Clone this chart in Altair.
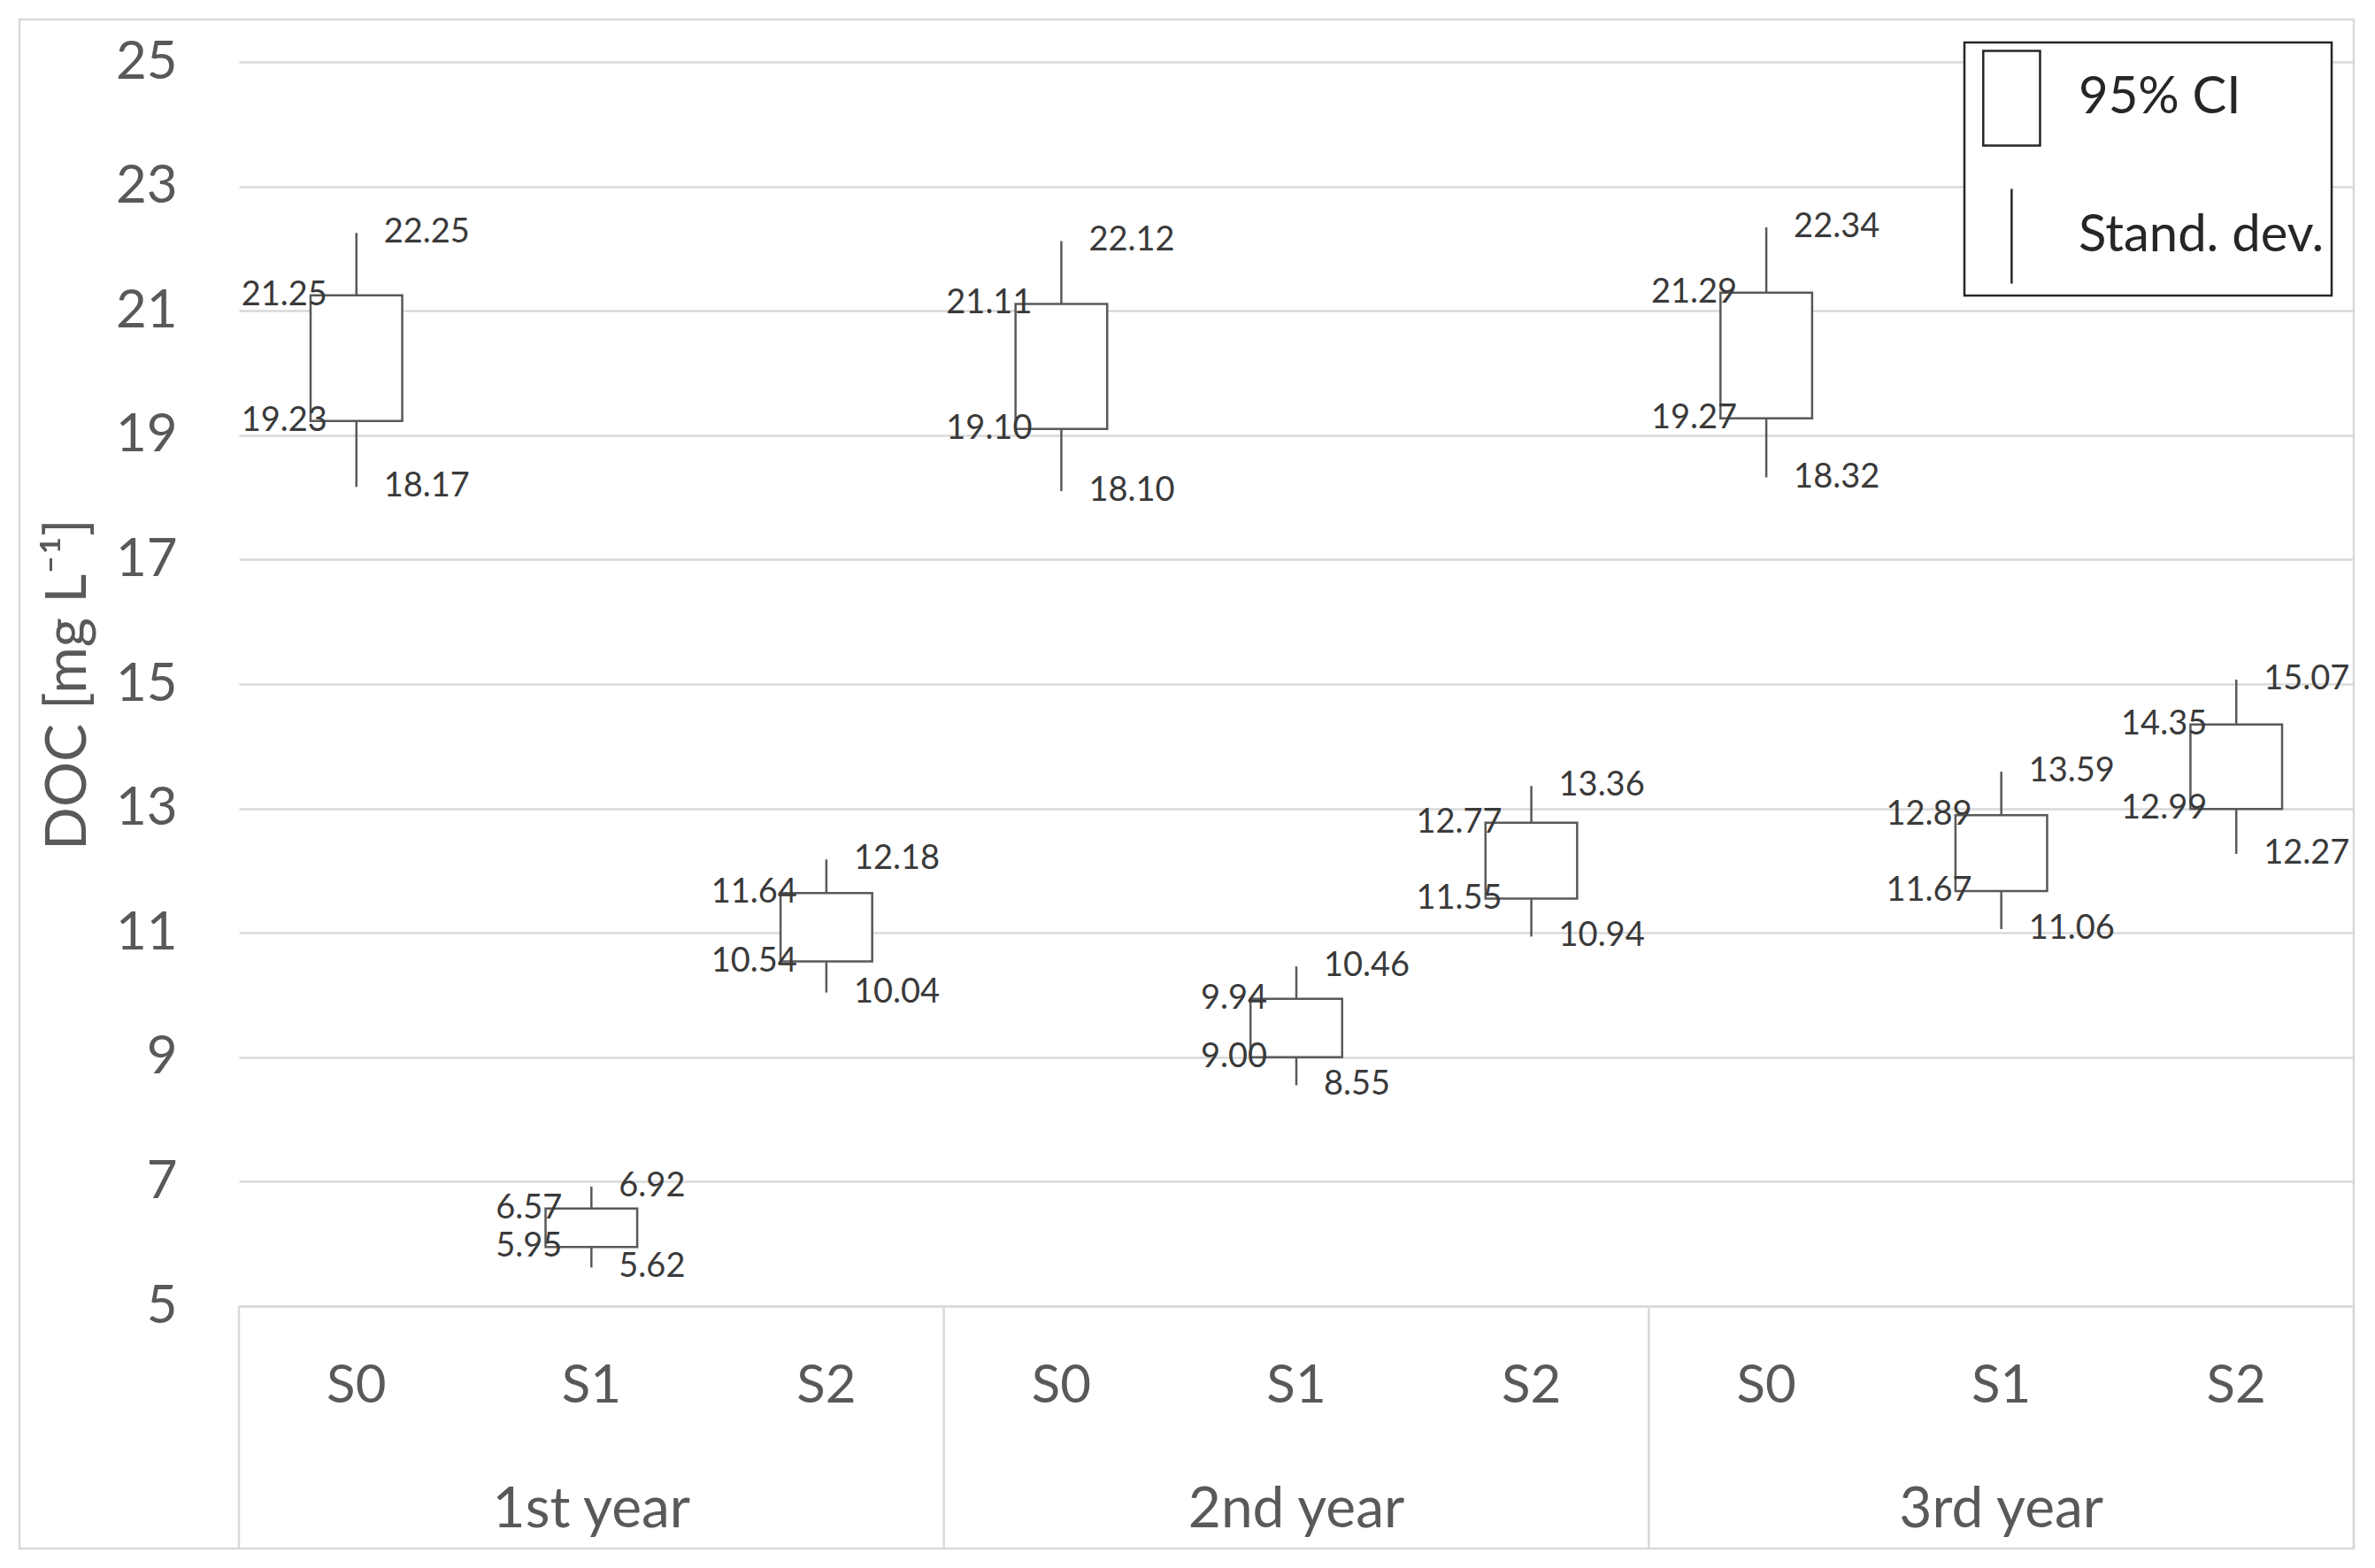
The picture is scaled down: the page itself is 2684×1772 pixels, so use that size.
import altair as alt
import pandas as pd

# ---- data ----
years = ["1st year", "2nd year", "3rd year"]
sites = ["S0", "S1", "S2"]
sd_high = [22.25, 6.92, 12.18, 22.12, 10.46, 13.36, 22.34, 13.59, 15.07]
ci_high = [21.25, 6.57, 11.64, 21.11, 9.94, 12.77, 21.29, 12.89, 14.35]
ci_low = [19.23, 5.95, 10.54, 19.10, 9.00, 11.55, 19.27, 11.67, 12.99]
sd_low = [18.17, 5.62, 10.04, 18.10, 8.55, 10.94, 18.32, 11.06, 12.27]
y_ticks = [5, 7, 9, 11, 13, 15, 17, 19, 21, 23, 25]
legend_labels = ["95% CI", "Stand. dev."]

keys = [f"{y}|{s}" for y in years for s in sites]
df = pd.DataFrame({
    "key": keys,
    "sd_high": sd_high,
    "ci_high": ci_high,
    "ci_low": ci_low,
    "sd_low": sd_low,
})
groups = pd.DataFrame({
    "year": years,
    "first": [f"{y}|{sites[0]}" for y in years],
    "mid": [f"{y}|{sites[1]}" for y in years],
})
last_key = pd.DataFrame({"key": [keys[-1]]})
legend_df = pd.DataFrame({"item": legend_labels})

W, H = 2390, 1406
FONT = "Lato"
GRID = "#d9d9d9"
DARK = "#595959"

xscale = alt.Scale(domain=keys, paddingInner=0, paddingOuter=0)
xaxis = alt.Axis(
    labelExpr="split(datum.label, '|')[1]", labelAngle=0, labelFontSize=60,
    labelFont=FONT, labelColor=DARK, labelPadding=90, labelBaseline="middle",
    ticks=False, tickSize=0, domain=True, domainColor=GRID, domainWidth=2.5,
    grid=False, title=None,
)
yscale = alt.Scale(domain=[5, 25], nice=False, zero=False)
yaxis = alt.Axis(
    values=y_ticks, grid=True, gridColor=GRID, gridWidth=2.5, domain=False,
    ticks=False, labelFontSize=60, labelFont=FONT, labelColor=DARK,
    labelPadding=70, title="DOC [mg L⁻¹]", titleFontSize=64, titleFont=FONT,
    titleColor=DARK, titleFontWeight="normal", titleX=-193, titleY=H / 2,
    titleAngle=270, titleAlign="center", titleBaseline="middle",
)

base = alt.Chart(df)

border = alt.Chart(legend_df.head(1)).mark_rect(
    fill="transparent", stroke=GRID, strokeWidth=2.5
).encode(x=alt.value(-248), x2=alt.value(W), y=alt.value(-48), y2=alt.value(1680))

sep_start = alt.Chart(groups).mark_rule(color=GRID, strokeWidth=2.5).encode(
    x=alt.X("first:N", scale=xscale, axis=xaxis, bandPosition=0),
    y=alt.value(H), y2=alt.value(1680),
)
sep_end = alt.Chart(last_key).mark_rule(color=GRID, strokeWidth=2.5).encode(
    x=alt.X("key:N", scale=xscale, axis=xaxis, bandPosition=1),
    y=alt.value(H), y2=alt.value(1680),
)
group_text = alt.Chart(groups).mark_text(
    fontSize=64, font=FONT, color=DARK, baseline="middle", align="center"
).encode(
    x=alt.X("mid:N", scale=xscale, axis=xaxis),
    y=alt.value(1637),
    text="year:N",
)

whisker = base.mark_rule(color=DARK, strokeWidth=2.5).encode(
    x=alt.X("key:N", scale=xscale, axis=xaxis),
    y=alt.Y("sd_low:Q", scale=yscale, axis=yaxis),
    y2="sd_high:Q",
)
box = base.mark_bar(
    width=alt.RelativeBandSize(0.39), fill="white", stroke=DARK, strokeWidth=2.5
).encode(
    x=alt.X("key:N", scale=xscale, axis=xaxis),
    y=alt.Y("ci_low:Q", scale=yscale, axis=yaxis),
    y2="ci_high:Q",
)


def label(field, align, dx):
    return base.mark_text(
        align=align, baseline="middle", dx=dx, fontSize=38, font=FONT, color="#3a3a3a"
    ).encode(
        x=alt.X("key:N", scale=xscale, axis=xaxis),
        y=alt.Y(f"{field}:Q", scale=yscale, axis=yaxis),
        text=alt.Text(f"{field}:Q", format=".2f"),
    )


rect_path = "M-0.78,-1H0.42V1H-0.78Z"
line_path = "M-0.18,-1V1"
legend_layer = alt.Chart(legend_df).mark_point(opacity=0).encode(
    shape=alt.Shape(
        "item:N",
        scale=alt.Scale(domain=legend_labels, range=[rect_path, line_path]),
        legend=alt.Legend(
            orient="none", legendX=1950, legendY=-22, direction="vertical",
            padding=8, strokeColor="#262626", fillColor="white",
            symbolSize=11449, symbolFillColor="white", symbolStrokeColor="#262626",
            symbolStrokeWidth=2.5, symbolOpacity=1, labelFontSize=58,
            labelFont=FONT, labelColor="#262626", labelOffset=11, rowPadding=38,
            labelLimit=600, title=None,
        ),
    )
)

chart = alt.layer(
    border, sep_start, sep_end, group_text, whisker, box,
    label("sd_high", "left", 31), label("sd_low", "left", 31),
    label("ci_high", "right", -33), label("ci_low", "right", -33),
    legend_layer,
).properties(
    width=W, height=H,
    autosize=alt.AutoSizeParams(type="none"),
    padding={"left": 262, "top": 62, "right": 14, "bottom": 280},
).configure(font=FONT, background="white").configure_view(
    stroke="transparent"
).configure_legend(strokeWidth=2.5)

chart.save("out.html", embed_options={"renderer": "svg", "actions": False})
